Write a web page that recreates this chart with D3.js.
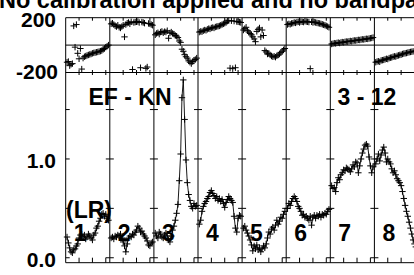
<!DOCTYPE html>
<html><head><meta charset="utf-8">
<script src="https://cdn.jsdelivr.net/npm/d3@7"></script>
<style>
html,body{margin:0;padding:0;background:#fff;}
svg{display:block;}
text{font-family:"Liberation Sans",Arial,Helvetica,sans-serif;font-weight:bold;fill:#000;}
</style></head>
<body>
<svg id="c" width="414" height="275"></svg>
<script>
const title = "No calibration applied and no bandpass";
const baselineLabel = "EF - KN";
const timeLabel = "3 - 12";
const polLabel = "(LR)";
const ifLabels = ["1","2","3","4","5","6","7","8"];
const channels = d3.range(1, 33);
const chanTicks = [10, 20, 30];
const phaseTickLabels = [{v: 200, t: "200"}, {v: -200, t: "-200"}];
const ampTickValues = [0, 0.5, 1.0, 1.5];
const ampTickLabels = [{v: 1.0, t: "1.0"}, {v: 0.0, t: "0.0"}];

const amp1 = [0.21,0.15,0.10,0.06,0.05,0.08,0.09,0.12,0.14,0.20,0.23,0.24,0.21,0.23,0.19,0.21,0.24,0.22,0.20,0.18,0.23,0.25,0.30,0.32,0.37,0.40,0.44,0.45,0.42,0.44,0.40,0.38];
const amp2 = [0.20,0.21,0.19,0.22,0.21,0.23,0.22,0.24,0.20,0.16,0.12,0.06,0.14,0.20,0.22,0.21,0.24,0.23,0.26,0.28,0.32,0.30,0.26,0.27,0.24,0.22,0.20,0.17,0.13,0.12,0.15,0.16];
const amp3 = [0.25,0.22,0.20,0.26,0.24,0.21,0.20,0.23,0.25,0.22,0.18,0.16,0.22,0.28,0.32,0.38,0.45,0.54,0.78,1.05,1.62,1.80,1.40,0.99,0.76,0.64,0.58,0.52,0.50,0.55,0.52,0.53];
const amp4 = [0.34,0.38,0.47,0.52,0.55,0.57,0.60,0.62,0.66,0.68,0.65,0.63,0.60,0.62,0.58,0.60,0.57,0.59,0.55,0.51,0.56,0.59,0.62,0.60,0.58,0.56,0.42,0.30,0.26,0.40,0.43,0.42];
const amp5 = [0.30,0.32,0.28,0.25,0.22,0.18,0.13,0.07,0.12,0.09,0.13,0.08,0.10,0.06,0.09,0.12,0.10,0.14,0.20,0.26,0.24,0.29,0.31,0.28,0.33,0.38,0.34,0.37,0.41,0.40,0.44,0.47];
const amp6 = [0.50,0.55,0.53,0.57,0.60,0.62,0.60,0.57,0.52,0.50,0.47,0.43,0.44,0.41,0.42,0.40,0.38,0.42,0.33,0.41,0.43,0.40,0.43,0.42,0.44,0.41,0.44,0.43,0.45,0.44,0.47,0.49];
const amp7 = [0.73,0.70,0.71,0.67,0.76,0.81,0.79,0.84,0.86,0.89,0.88,0.91,0.90,0.89,0.87,0.90,0.94,0.92,0.97,0.96,0.86,0.93,1.00,1.06,1.10,1.14,1.15,1.13,1.02,0.93,0.86,0.92];
const amp8 = [0.95,1.00,1.05,0.98,1.04,1.09,1.12,1.06,0.97,1.00,0.97,0.95,0.90,0.86,0.88,0.84,0.80,0.78,0.76,0.73,0.67,0.60,0.53,0.47,0.42,0.36,0.30,0.24,0.18,0.14,0.11,0.09];

const phase1 = [-125,-120,-150,-140,-135,140,-15,150,-60,-100,-25,-175,-95,-85,-80,-75,-72,-68,-65,-60,-57,-55,-52,-50,-47,-44,-40,-32,-25,-15,-8,0];
const phase2 = [155,160,150,140,135,145,130,125,135,145,60,150,160,165,155,170,-178,165,168,170,172,165,-165,168,165,160,-170,-160,158,155,150,145];
const phase3 = [75,85,90,80,95,100,90,98,95,105,50,88,95,85,80,70,65,55,30,20,-30,-45,-70,-85,-95,-115,-125,-135,-120,-110,-105,-95];
const phase4 = [95,100,98,105,110,108,115,120,118,125,128,125,132,135,138,140,145,150,155,160,165,175,178,-168,178,-172,175,-165,172,170,168,165];
const phase5 = [110,120,130,105,95,85,75,60,45,25,100,115,125,60,110,70,-40,-50,-65,-60,-72,-80,-85,-82,-88,-78,-72,-65,-55,-45,-35,-25];
const phase6 = [150,155,152,158,160,165,162,168,170,165,172,170,168,175,172,170,168,-172,170,165,168,165,162,160,158,155,152,148,145,140,135,130];
const phase7 = [8,10,14,12,16,18,15,20,22,20,24,26,25,28,30,28,32,34,33,36,38,37,40,42,41,44,46,45,48,50,52,55];
const phase8 = [-125,-120,-118,-122,-112,-110,-108,-104,-100,-102,-95,-92,-90,-85,-82,-84,-78,-75,-72,-70,-65,-62,-60,-58,-55,-52,-50,-48,-46,-44,-42,-40];

const amps = [amp1,amp2,amp3,amp4,amp5,amp6,amp7,amp8];
const phases = [phase1,phase2,phase3,phase4,phase5,phase6,phase7,phase8];

const svg = d3.select("#c");
const left = 65.7, right = 418.5;
const xPanel = d3.scaleLinear().domain([0, 8]).range([left, right]);
const pw = xPanel(1) - xPanel(0);
const xChan = d3.scaleLinear().domain([0, 33]).range([0, pw]);
const yPhase = d3.scaleLinear().domain([-200, 200]).range([72.5, 17.7]);
const yAmp = d3.scaleLinear().domain([-0.05, 1.875]).range([262.7, 72.5]);

const g = svg.append("g");
const ln = (x1,y1,x2,y2,w) => g.append("line").attr("x1",x1).attr("y1",y1).attr("x2",x2).attr("y2",y2).attr("stroke","#000").attr("stroke-width",w||1);

ln(left, yPhase(200), right, yPhase(200));
ln(left, yPhase(0), right, yPhase(0));
ln(left, yPhase(-200), right, yPhase(-200));
ln(left, yAmp(-0.05), right, yAmp(-0.05));

const A = 3.2;
for (let p = 0; p < 8; p++) {
  const x0 = xPanel(p), x1 = xPanel(p+1);
  ln(x0, yPhase(200), x0, yAmp(-0.05));
  chanTicks.forEach(c => {
    const x = x0 + xChan(c);
    ln(x, yAmp(-0.05), x, yAmp(-0.05) - 5);
    ln(x, yPhase(-200) - 2.5, x, yPhase(-200) + 2.5);
    ln(x, yPhase(200), x, yPhase(200) + 3);
  });
  ampTickValues.forEach(v => {
    ln(x0, yAmp(v), x0 + 4, yAmp(v));
    ln(x1 - 4, yAmp(v), x1, yAmp(v));
  });
  const line = d3.line().x((d,i) => x0 + xChan(channels[i])).y(d => yAmp(d));
  g.append("path").attr("d", line(amps[p])).attr("fill","none").attr("stroke","#000").attr("stroke-width",0.9);
  amps[p].forEach((d,i) => {
    const cx = x0 + xChan(channels[i]), cy = yAmp(d);
    ln(cx - A, cy, cx + A, cy); ln(cx, cy - A, cx, cy + A);
  });
  phases[p].forEach((d,i) => {
    const cx = x0 + xChan(channels[i]), cy = yPhase(d);
    ln(cx - A, cy, cx + A, cy); ln(cx, cy - A, cx, cy + A);
  });
  g.append("text").attr("x", x0 + 8).attr("y", 241).attr("font-size", 23).text(ifLabels[p]);
}

svg.append("text").attr("x", 56).attr("y", 27).attr("text-anchor","end").attr("font-size",21).text(phaseTickLabels[0].t);
svg.append("text").attr("x", 58).attr("y", 78.5).attr("text-anchor","end").attr("font-size",21).text(phaseTickLabels[1].t);
ampTickLabels.forEach(d => {
  svg.append("text").attr("x", 56).attr("y", yAmp(d.v) + 9.5).attr("text-anchor","end").attr("font-size",21).text(d.t);
});

svg.append("text").attr("x", 88.5).attr("y", 105).attr("font-size", 23).text(baselineLabel);
svg.append("text").attr("x", 337.5).attr("y", 105).attr("font-size", 23).text(timeLabel);
svg.append("text").attr("x", 66).attr("y", 217.5).attr("font-size", 23).text(polLabel);
svg.append("text").attr("x", -1).attr("y", 7.5).attr("font-size", 23.5).text(title);
</script>
</body></html>
